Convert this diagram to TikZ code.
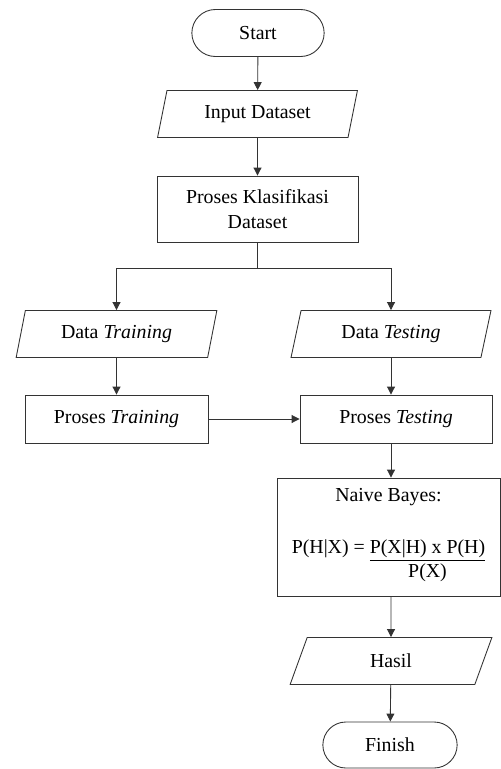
\documentclass[tikz,border=0pt]{standalone}
\usepackage{fontspec}
\setmainfont{Liberation Serif}
\usetikzlibrary{shapes.geometric,shapes.misc,arrows.meta}

\begin{document}
\begin{tikzpicture}[
    txt/.style={font=\fontsize{11.3}{14.5}\selectfont, align=center, draw=black!80, line width=0.5pt},
    term/.style={txt, rounded rectangle, minimum width=2.88cm, minimum height=0.94cm},
    io/.style={txt, trapezium, trapezium left angle=78, trapezium right angle=102,
      trapezium stretches=true, minimum width=4.02cm, minimum height=0.94cm},
    proc/.style={txt, rectangle, minimum height=0.96cm},
    arr/.style={draw=black!80, line width=0.5pt, -{Triangle[length=4.5pt,width=4.5pt]}},
    lin/.style={draw=black!80, line width=0.5pt}]
    \useasboundingbox (0,0) rectangle (10.02,-15.38);

    \node[term] (start) at (5.16,-0.66) {Start};
    \node[io] (input) at (5.15,-2.28) {Input Dataset};
    \node[proc, minimum width=4.02cm, minimum height=1.32cm] (klas) at (5.15,-4.18)
    {Proses Klasifikasi\\Dataset};
    \coordinate (split) at (5.15,-5.36);

    \node[io] (dtrain) at (2.33,-6.68) {Data \textit{Training}};
    \node[io] (dtest) at (7.82,-6.68) {Data \textit{Testing}};
    \node[proc, minimum width=3.66cm] (ptrain) at (2.33,-8.38) {Proses \textit{Training}};
    \node[proc, minimum width=3.84cm] (ptest) at (7.92,-8.38) {Proses \textit{Testing}};

    \node[proc, minimum width=4.46cm, minimum height=2.36cm] (naive) at (7.77,-10.74)
    {Naive Bayes:\\[15pt]
      P(H|X) = \begin{tabular}[t]{@{}c@{}}\underline{P(X|H) x P(H)}\\[-1pt]P(X)\end{tabular}};
    \node[io, minimum width=4.04cm] (hasil) at (7.82,-13.22) {Hasil};
    \node[term, minimum width=2.92cm, minimum height=0.92cm] (finish) at (7.8,-14.9) {Finish};

    \draw[arr] (start) -- (input);
    \draw[arr] (input) -- (klas);
    \draw[lin] (klas.south) -- (split);
    \draw[arr] (split) -| (dtrain.north);
    \draw[arr] (split) -| (dtest.north);
    \draw[arr] (dtrain) -- (ptrain);
    \draw[arr] (dtest.south) -- (dtest.south |- ptest.north);
    \draw[arr] (ptrain) -- (ptest);
    \draw[arr] (dtest.south |- ptest.south) -- (dtest.south |- naive.north);
    \draw[arr] (dtest.south |- naive.south) -- (hasil.north);
    \draw[arr] (hasil) -- (finish);
  \end{tikzpicture}
\end{document}
